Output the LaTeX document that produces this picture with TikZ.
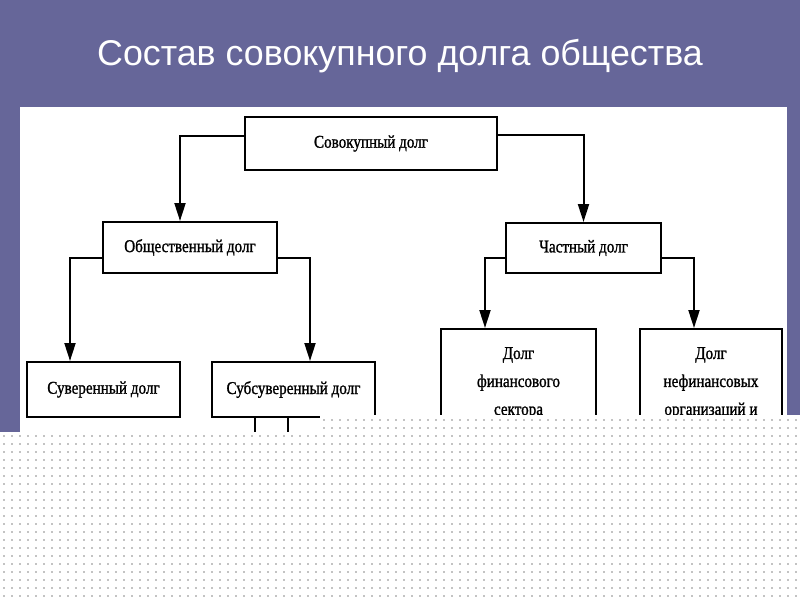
\documentclass[tikz,border=0pt]{standalone}
\usepackage{fontspec}
\setmainfont{Liberation Serif}
\newfontfamily\titlefont{Liberation Sans}
\newfontfamily\boxfont[FakeStretch=0.84,FakeBold=1.2]{Liberation Serif}
\usetikzlibrary{arrows.meta}
\definecolor{slidebg}{RGB}{102,102,153}
\definecolor{dotgray}{RGB}{195,195,195}
\tikzset{
  box/.style={draw=black, line width=2pt, fill=white, rectangle, inner sep=0pt,
    font=\boxfont\fontsize{18}{28}\selectfont},
  lbl/.style={align=center, inner sep=0pt, font=\boxfont\fontsize{18}{28}\selectfont},
  arr/.style={draw=black, line width=2pt, -{Triangle[length=18pt,width=11pt]}},
  conn/.style={draw=black, line width=2pt},
}
\begin{document}
\begin{tikzpicture}[x=1pt,y=-1pt]
\useasboundingbox (0,0) rectangle (800,600);
% background
\fill[slidebg] (0,0) rectangle (800,600);
\node[text=white, font=\titlefont\fontsize{35.8}{40}\selectfont, inner sep=0pt] (title) at (400,56) {Состав совокупного долга общества};
% scanned image area
\fill[white] (20,107) rectangle (787,440);
% boxes
\node[box, minimum width=252pt, minimum height=53pt] (tot) at (371,143.5) {Совокупный долг};
\node[box, minimum width=174pt, minimum height=51pt] (pub) at (190,247.5) {Общественный долг};
\node[box, minimum width=155pt, minimum height=50pt] (priv) at (583.5,248) {Частный долг};
\node[box, minimum width=153pt, minimum height=55pt] (sov) at (103.5,389.5) {Суверенный долг};
\node[box, minimum width=163pt, minimum height=55pt] (sub) at (293.5,389.5) {Субсуверенный долг};
\node[box, minimum width=155pt, minimum height=140pt, anchor=north west] (fin) at (440,328) {};
\node[lbl, anchor=north] (fintxt) at ([yshift=-19pt]fin.north) {Долг\\финансового\\сектора};
\node[box, minimum width=142pt, minimum height=140pt, anchor=north west] (nfin) at (639,328) {};
\node[lbl, anchor=north] (nfintxt) at ([yshift=-19pt]nfin.north) {Долг\\нефинансовых\\организаций и};
% connectors
\draw[arr] ([yshift=8pt]tot.west) -| ([xshift=-10pt]pub.north);
\draw[arr] ([yshift=9pt]tot.east) -| (priv.north);
\draw[arr] ([yshift=-10.5pt]pub.west) -| ([xshift=-33.5pt]sov.north);
\draw[arr] ([yshift=-10.5pt]pub.east) -| ([xshift=16.5pt]sub.north);
\draw[arr] ([yshift=-10pt]priv.west) -| ([xshift=-33.5pt]fin.north);
\draw[arr] ([yshift=-10pt]priv.east) -| ([xshift=-17pt]nfin.north);
\coordinate (s1) at (255,445);
\coordinate (s2) at (288,445);
\draw[conn] (sub.south -| s1) -- (s1);
\draw[conn] (sub.south -| s2) -- (s2);
% dotted overlay
\fill[white] (0,432) -- (320,432) -- (320,415) -- (800,415) -- (800,600) -- (0,600) -- cycle;
\foreach \x in {4,12,...,800} {
  \foreach \y in {436,444,...,600} {
    \fill[dotgray] (\x-0.8,\y-0.8) rectangle (\x+0.8,\y+0.8);
  }
}
\foreach \x in {324,332,...,800} {
  \foreach \y in {420,428} {
    \fill[dotgray] (\x-0.8,\y-0.8) rectangle (\x+0.8,\y+0.8);
  }
}
\end{tikzpicture}
\end{document}
